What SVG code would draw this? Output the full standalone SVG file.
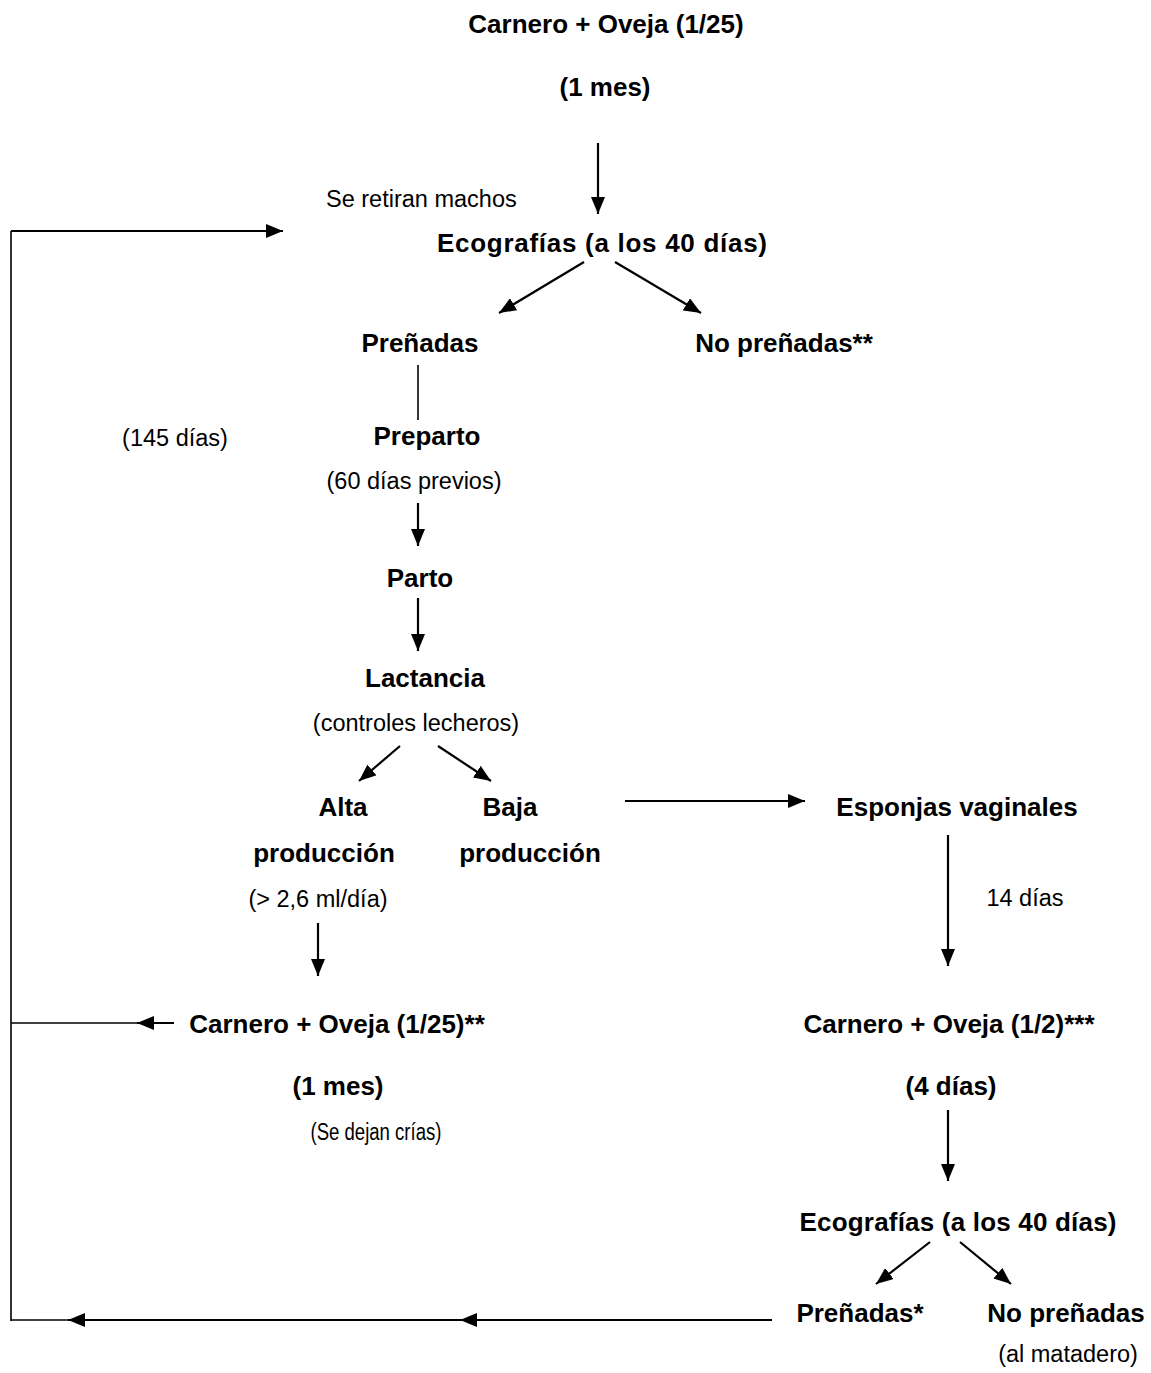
<svg xmlns="http://www.w3.org/2000/svg" width="1151" height="1373" viewBox="0 0 1151 1373">
<style>
text{font-family:"Liberation Sans",Arial,sans-serif;fill:#000;text-anchor:middle}
.b{font-weight:bold;font-size:26px}
.r{font-size:23.5px}
.c line,.c path{stroke:#000;stroke-width:2.2;fill:none}
.c .thin{stroke-width:1.6}
</style>
<defs>
<marker id="ah" markerUnits="userSpaceOnUse" markerWidth="17" markerHeight="14" refX="17" refY="7" orient="auto">
<path d="M0,0 L17,7 L0,14 z" fill="#000"/>
</marker>
</defs>
<rect width="1151" height="1373" fill="#fff"/>
<g class="c" id="connectors">
<line x1="598" y1="143" x2="598" y2="214" marker-end="url(#ah)"/>
<line x1="11" y1="1321" x2="11" y2="231" class="thin"/>
<line x1="11" y1="231" x2="283" y2="231" marker-end="url(#ah)"/>
<line x1="584" y1="262" x2="499" y2="313" marker-end="url(#ah)"/>
<line x1="615" y1="262" x2="701" y2="313" marker-end="url(#ah)"/>
<line x1="418" y1="365" x2="418" y2="420" class="thin"/>
<line x1="418" y1="503" x2="418" y2="546" marker-end="url(#ah)"/>
<line x1="418" y1="598" x2="418" y2="651" marker-end="url(#ah)"/>
<line x1="400" y1="746" x2="359" y2="781" marker-end="url(#ah)"/>
<line x1="438" y1="746" x2="491" y2="781" marker-end="url(#ah)"/>
<line x1="625" y1="801" x2="805" y2="801" marker-end="url(#ah)"/>
<line x1="318" y1="923" x2="318" y2="976" marker-end="url(#ah)"/>
<line x1="174" y1="1023" x2="137" y2="1023" marker-end="url(#ah)"/>
<line x1="137" y1="1023" x2="11" y2="1023" class="thin"/>
<line x1="948" y1="835" x2="948" y2="966" marker-end="url(#ah)"/>
<line x1="948" y1="1110" x2="948" y2="1181" marker-end="url(#ah)"/>
<line x1="930" y1="1242" x2="876" y2="1284" marker-end="url(#ah)"/>
<line x1="960" y1="1242" x2="1011" y2="1284" marker-end="url(#ah)"/>
<line x1="772" y1="1320" x2="460" y2="1320" marker-end="url(#ah)"/>
<line x1="460" y1="1320" x2="68" y2="1320" marker-end="url(#ah)"/>
<line x1="68" y1="1320" x2="11" y2="1320" class="thin"/>
</g>
<g id="n-carnero1"><text class="b" x="606" y="33">Carnero + Oveja (1/25)</text><text class="b" x="605" y="96">(1 mes)</text></g>
<g id="l-retiran"><text class="r" x="326" y="207" style="text-anchor:start">Se retiran machos</text></g>
<g id="n-eco1"><text class="b" x="602" y="252" textLength="330">Ecografías (a los 40 días)</text></g>
<g id="n-prenadas1"><text class="b" x="420" y="352">Preñadas</text></g>
<g id="n-noprenadas1"><text class="b" x="784" y="352">No preñadas**</text></g>
<g id="l-145"><text class="r" x="175" y="446">(145 días)</text></g>
<g id="n-preparto"><text class="b" x="427" y="445">Preparto</text><text class="r" x="414" y="489">(60 días previos)</text></g>
<g id="n-parto"><text class="b" x="420" y="587">Parto</text></g>
<g id="n-lactancia"><text class="b" x="425" y="687">Lactancia</text><text class="r" x="416" y="731">(controles lecheros)</text></g>
<g id="n-alta"><text class="b" x="343" y="816">Alta</text><text class="b" x="324" y="862">producción</text><text class="r" x="318" y="907">(&gt; 2,6 ml/día)</text></g>
<g id="n-baja"><text class="b" x="510" y="816">Baja</text><text class="b" x="530" y="862">producción</text></g>
<g id="n-esponjas"><text class="b" x="957" y="816">Esponjas vaginales</text></g>
<g id="l-14"><text class="r" x="1025" y="906">14 días</text></g>
<g id="n-carnero2"><text class="b" x="337" y="1033">Carnero + Oveja (1/25)**</text><text class="b" x="338" y="1095">(1 mes)</text><text class="r" x="376" y="1140" textLength="131" lengthAdjust="spacingAndGlyphs">(Se dejan crías)</text></g>
<g id="n-carnero3"><text class="b" x="949" y="1033">Carnero + Oveja (1/2)***</text><text class="b" x="951" y="1095">(4 días)</text></g>
<g id="n-eco2"><text class="b" x="958" y="1231" textLength="317">Ecografías (a los 40 días)</text></g>
<g id="n-prenadas2"><text class="b" x="860" y="1322">Preñadas*</text></g>
<g id="n-noprenadas2"><text class="b" x="1066" y="1322">No preñadas</text><text class="r" x="1068" y="1362">(al matadero)</text></g>
</svg>
